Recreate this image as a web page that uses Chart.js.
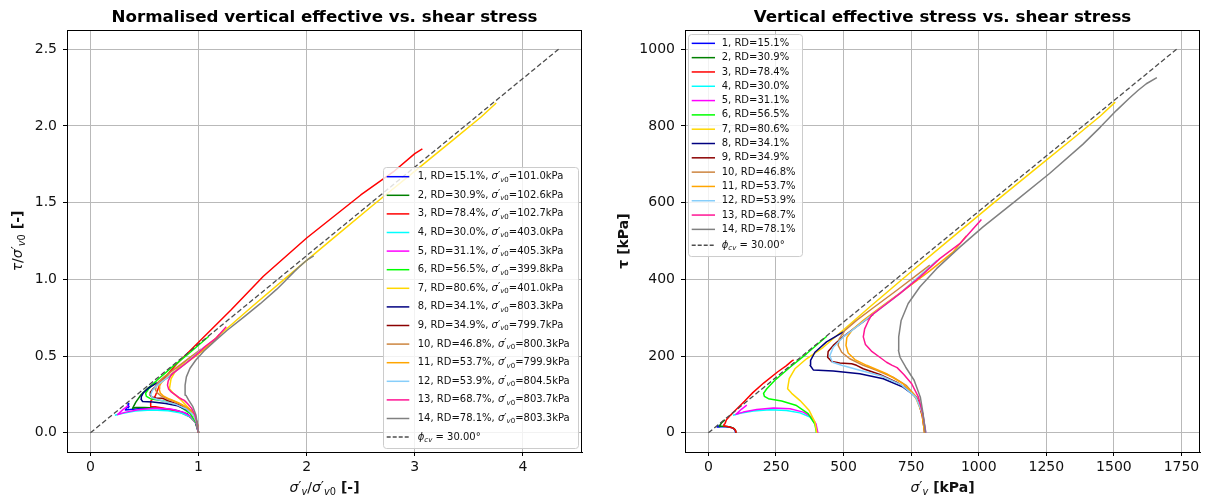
<!DOCTYPE html>
<html>
<head>
<meta charset="utf-8">
<title>Vertical effective stress vs. shear stress</title>
<script src="https://cdn.jsdelivr.net/npm/chart.js@4/dist/chart.umd.min.js"></script>
<style>
  html, body { margin: 0; padding: 0; background: #fff; }
  #wrap { position: relative; width: 1207px; height: 502px; overflow: hidden; }
  .pane { position: absolute; top: 0; height: 502px; }
  #paneLeft { left: 0; width: 600px; }
  #paneRight { left: 600px; width: 607px; }
</style>
</head>
<body>
<div id="wrap">
  <div class="pane" id="paneLeft"><canvas id="chartNorm"></canvas></div>
  <div class="pane" id="paneRight"><canvas id="chartAbs"></canvas></div>
</div>
<script>
// ---- Test metadata ----
const testIds = [1, 2, 3, 4, 5, 6, 7, 8, 9, 10, 11, 12, 13, 14];
const relativeDensity = [15.1, 30.9, 78.4, 30.0, 31.1, 56.5, 80.6, 34.1, 34.9, 46.8, 53.7, 53.9, 68.7, 78.1];
const sigmaV0 = [101.0, 102.6, 102.7, 403.0, 405.3, 399.8, 401.0, 803.3, 799.7, 800.3, 799.9, 804.5, 803.7, 803.3];
const phiCv = 30.0;

// ---- Stress paths: vertical effective stress sigma'_v [kPa] and shear stress tau [kPa] ----
const sigma1 = [101.0, 98.0, 90.4, 77.8, 62.3, 46.8, 37.4, 32.7, 35.8, 35.2, 36.4];
const tau1   = [0, 7.5, 12.5, 15.0, 16.0, 16.0, 15.4, 15.0, 19.3, 16.4, 17.6];

const sigma2 = [102.6, 99.5, 92.3, 82.1, 66.7, 51.3, 43.1, 40.0, 43.1, 48.2, 54.4, 61.6];
const tau2   = [0, 7.2, 12.3, 14.9, 16.4, 16.9, 16.9, 16.4, 20.5, 25.6, 29.8, 33.9];

const sigma3 = [102.7, 100.6, 95.5, 86.3, 73.9, 61.6, 57.5, 57.0, 57.5, 61.6, 66.8, 82.2, 102.7, 133.5, 164.3, 205.4, 256.8, 287.6, 308.1, 315.3];
const tau3   = [0, 6.2, 10.3, 13.4, 15.9, 17.5, 17.7, 19.5, 21.1, 24.6, 33.9, 46.2, 60.6, 82.2, 104.8, 130.4, 159.2, 174.6, 186.9, 190.0];

const sigma4 = [403, 395, 376, 339, 289, 228, 166, 117, 91];
const tau4   = [0, 23.5, 41, 52, 58, 60, 57, 51, 46];

const sigma5 = [405, 398, 382, 351, 302, 240, 179, 129, 102, 123, 142];
const tau5   = [0, 23, 41, 54, 63, 65, 61, 54, 48, 62, 72];

const sigma6 = [400, 394, 369, 326, 271, 222, 207, 204, 216, 246, 302, 363, 437];
const tau6   = [0, 23, 50, 71, 83, 89, 95, 103, 115, 137, 171, 206, 251];

const sigma7 = [401, 394, 373, 339, 308, 293, 299, 320, 363, 425, 499, 600, 750, 900, 1050, 1200, 1350, 1450, 1505];
const tau7   = [0, 28, 58, 84, 103, 115, 141, 167, 193, 223, 268, 330, 420, 508, 596, 682, 768, 826, 862];

const sigma8 = [803, 792, 770, 720, 647, 560, 462, 388, 376, 378, 394, 437, 501];
const tau8   = [0, 50, 93, 119, 141, 154, 161, 164, 176, 189, 210, 237, 264];

const sigma9 = [800, 792, 776, 745, 696, 634, 573, 548, 530, 486, 456, 441, 443, 462, 499, 548, 610];
const tau9   = [0, 41, 84, 110, 132, 152, 167, 176, 180, 182, 186, 197, 212, 228, 251, 277, 309];

const sigma10 = [800, 792, 770, 733, 683, 622, 573, 523, 493, 480, 484, 505, 548, 610, 696, 819];
const tau10   = [0, 50, 93, 123, 145, 163, 176, 193, 210, 228, 245, 267, 293, 326, 371, 437];

const sigma11 = [800, 789, 764, 720, 659, 585, 542, 517, 509, 512, 533, 573, 634, 720, 819, 905, 954];
const tau11   = [0, 54, 97, 128, 154, 176, 191, 208, 228, 248, 269, 293, 326, 370, 422, 471, 513];

const sigma12 = [805, 793, 767, 714, 640, 560, 493, 459, 449, 462, 499, 548, 610, 708, 846];
const tau12   = [0, 50, 93, 125, 148, 163, 176, 184, 201, 223, 250, 276, 310, 363, 450];

const sigma13 = [804, 793, 777, 752, 723, 698, 680, 659, 634, 603, 581, 573, 578, 591, 603, 640, 708, 782, 856, 930, 1010];
const tau13   = [0, 50, 93, 128, 152, 170, 176, 184, 197, 213, 230, 250, 271, 291, 306, 326, 363, 406, 454, 493, 556];

const sigma14 = [803, 794, 784, 761, 730, 709, 703, 704, 713, 739, 782, 844, 930, 1016, 1139, 1262, 1385, 1450, 1509, 1558, 1590, 1620, 1659];
const tau14   = [0, 50, 93, 137, 171, 197, 215, 250, 293, 337, 380, 428, 484, 537, 606, 676, 752, 797, 840, 873, 893, 910, 926];

// Critical state line tau = sigma'_v * tan(phi_cv)
const cslSigma = [0, 1732];
const cslTau = [0, 1000];
const cslSigmaNorm = [0, 4.33];
const cslTauNorm = [0, 2.5];

// ---- Tick values and labels ----
const normXTicks = [0, 1, 2, 3, 4];
const normXTickLabels = ['0', '1', '2', '3', '4'];
const normYTicks = [0, 0.5, 1.0, 1.5, 2.0, 2.5];
const normYTickLabels = ['0.0', '0.5', '1.0', '1.5', '2.0', '2.5'];
const absXTicks = [0, 250, 500, 750, 1000, 1250, 1500, 1750];
const absXTickLabels = ['0', '250', '500', '750', '1000', '1250', '1500', '1750'];
const absYTicks = [0, 200, 400, 600, 800, 1000];
const absYTickLabels = ['0', '200', '400', '600', '800', '1000'];

// ---- Styles ----
const seriesColors = ['#0000ff', '#008000', '#ff0000', '#00ffff', '#ff00ff', '#00ff00', '#ffd700',
                      '#000080', '#8b0000', '#cd853f', '#ffa500', '#87cefa', '#ff1493', '#808080'];
const cslColor = '#4d4d4d';
const cslDash = [5, 2.6];

const sigmaSeries = [sigma1, sigma2, sigma3, sigma4, sigma5, sigma6, sigma7, sigma8, sigma9, sigma10, sigma11, sigma12, sigma13, sigma14];
const tauSeries = [tau1, tau2, tau3, tau4, tau5, tau6, tau7, tau8, tau9, tau10, tau11, tau12, tau13, tau14];

const FAM = '"DejaVu Sans", sans-serif';
const fReg = s => `${s}px ${FAM}`;
const fIt = s => `italic ${s}px ${FAM}`;
const fBold = s => `bold ${s}px ${FAM}`;
const TEXT = '#111';

Chart.defaults.font.family = FAM;
Chart.defaults.color = TEXT;

// ---- Rich text helpers (math-style labels with subscripts) ----
function richWidth(ctx, parts) {
  let w = 0;
  for (const p of parts) { ctx.font = p.font; w += ctx.measureText(p.t).width; }
  return w;
}
function drawRich(ctx, parts, x, y, align) {
  const w = richWidth(ctx, parts);
  let cx = align === 'center' ? x - w / 2 : x;
  ctx.textAlign = 'left';
  ctx.textBaseline = 'middle';
  for (const p of parts) {
    ctx.font = p.font;
    ctx.fillStyle = p.color || TEXT;
    ctx.fillText(p.t, cx, y + (p.dy || 0));
    cx += ctx.measureText(p.t).width;
  }
}
function sigmaPrime(size, subItalic, subUpright) {
  const s = Math.round(size * 0.7 * 10) / 10;
  const parts = [
    { t: 'σ', font: fIt(size) },
    { t: '′', font: fReg(size), dy: -size * 0.05 }
  ];
  if (subItalic) parts.push({ t: subItalic, font: fIt(s), dy: size * 0.3 });
  if (subUpright) parts.push({ t: subUpright, font: fReg(s), dy: size * 0.3 });
  return parts;
}

// ---- Dataset construction ----
function buildDatasets(normalised) {
  const ds = sigmaSeries.map((sig, i) => {
    const ref = normalised ? sigmaV0[i] : 1;
    return {
      label: `${testIds[i]}, RD=${relativeDensity[i].toFixed(1)}%`,
      data: sig.map((s, k) => ({ x: s / ref, y: tauSeries[i][k] / ref })),
      borderColor: seriesColors[i],
      backgroundColor: seriesColors[i],
      borderWidth: 1.5,
      borderJoinStyle: 'round',
      showLine: true,
      pointRadius: 0,
      pointHoverRadius: 0,
      fill: false,
      tension: 0,
      order: 40 - i
    };
  });
  const xs = normalised ? cslSigmaNorm : cslSigma;
  const ys = normalised ? cslTauNorm : cslTau;
  ds.push({
    label: 'phi_cv',
    data: xs.map((x, k) => ({ x: x, y: ys[k] })),
    borderColor: cslColor,
    borderWidth: 1.3,
    borderDash: cslDash,
    showLine: true,
    pointRadius: 0,
    pointHoverRadius: 0,
    fill: false,
    order: 0
  });
  return ds;
}

// ---- Legend rows ----
function legendRows(withSigma) {
  const fs = 10, sub = 7;
  const rows = testIds.map((id, i) => {
    let parts = [{ t: `${id}, RD=${relativeDensity[i].toFixed(1)}%`, font: fReg(fs) }];
    if (withSigma) {
      parts = parts.concat([
        { t: ', ', font: fReg(fs) },
        { t: 'σ', font: fIt(fs) },
        { t: '′', font: fReg(fs), dy: -0.5 },
        { t: 'v', font: fIt(sub), dy: 3 },
        { t: '0', font: fReg(sub), dy: 3 },
        { t: `=${sigmaV0[i].toFixed(1)}kPa`, font: fReg(fs) }
      ]);
    }
    return { color: seriesColors[i], dash: null, parts: parts };
  });
  rows.push({
    color: cslColor, dash: [4, 2],
    parts: [
      { t: 'ϕ', font: fIt(fs) },
      { t: 'cv', font: fIt(sub), dy: 3 },
      { t: ` = ${phiCv.toFixed(2)}°`, font: fReg(fs) }
    ]
  });
  return rows;
}

// ---- Plugin: frame, axis labels, in-axes legend ----
const decorPlugin = {
  id: 'decor',
  afterDraw(chart, args, opts) {
    const ctx = chart.ctx;
    const a = chart.chartArea;
    ctx.save();
    // full axes frame
    ctx.strokeStyle = '#000';
    ctx.lineWidth = 1;
    ctx.strokeRect(Math.round(a.left) + 0.5, Math.round(a.top) + 0.5,
                   Math.round(a.right - a.left) - 1, Math.round(a.bottom - a.top));

    // axis labels
    const cx = (a.left + a.right) / 2;
    const cy = (a.top + a.bottom) / 2;
    drawRich(ctx, opts.xLabel, cx, opts.xLabelY, 'center');
    ctx.save();
    ctx.translate(opts.yLabelX, cy);
    ctx.rotate(-Math.PI / 2);
    drawRich(ctx, opts.yLabel, 0, 0, 'center');
    ctx.restore();

    // legend
    const L = opts.legend;
    const bx = L.anchor === 'lower right' ? a.right - L.inset - L.width : a.left + L.inset;
    const by = L.anchor === 'lower right' ? a.bottom - L.inset - L.height : a.top + L.insetTop;
    ctx.beginPath();
    if (ctx.roundRect) ctx.roundRect(bx + 0.5, by + 0.5, L.width, L.height, 3);
    else ctx.rect(bx + 0.5, by + 0.5, L.width, L.height);
    ctx.fillStyle = 'rgba(255,255,255,0.82)';
    ctx.fill();
    ctx.strokeStyle = '#cccccc';
    ctx.lineWidth = 1;
    ctx.stroke();
    L.rows.forEach((row, i) => {
      const y = by + L.firstRow + i * L.pitch + (i === L.rows.length - 1 ? L.lastExtra : 0);
      ctx.beginPath();
      ctx.setLineDash(row.dash || []);
      ctx.strokeStyle = row.color;
      ctx.lineWidth = 1.5;
      ctx.moveTo(bx + L.sampleX0, y);
      ctx.lineTo(bx + L.sampleX1, y);
      ctx.stroke();
      ctx.setLineDash([]);
      drawRich(ctx, row.parts, bx + L.textX, y, 'left');
    });
    ctx.restore();
  }
};

function scaleOpts(min, max, ticks, labels, isY, fixedSize) {
  return {
    type: 'linear',
    min: min,
    max: max,
    afterBuildTicks: (scale) => { scale.ticks = ticks.map(v => ({ value: v })); },
    afterFit: (scale) => { if (isY) scale.width = fixedSize; else scale.height = fixedSize; },
    ticks: {
      callback: (value) => { const k = ticks.indexOf(value); return k >= 0 ? labels[k] : ''; },
      font: { size: 14, family: FAM },
      color: TEXT,
      padding: isY ? 6 : 3,
      maxRotation: 0,
      autoSkip: false
    },
    grid: {
      color: '#b9b9b9',
      lineWidth: 1,
      tickColor: '#000',
      tickLength: 4,
      drawTicks: true
    },
    border: { display: true, color: '#000', width: 1 }
  };
}

function makeChart(canvasId, cfg) {
  return new Chart(document.getElementById(canvasId), {
    type: 'scatter',
    data: { datasets: buildDatasets(cfg.normalised) },
    options: {
      responsive: true,
      maintainAspectRatio: false,
      animation: false,
      events: [],
      layout: { autoPadding: false, padding: { left: 0, right: cfg.padRight, top: 0, bottom: 0 } },
      scales: {
        x: scaleOpts(cfg.xMin, cfg.xMax, cfg.xTicks, cfg.xLabels, false, 50),
        y: scaleOpts(cfg.yMin, cfg.yMax, cfg.yTicks, cfg.yLabels, true, cfg.yAxisWidth)
      },
      plugins: {
        legend: { display: false },
        tooltip: { enabled: false },
        title: {
          display: true,
          text: cfg.title,
          fullSize: false,
          color: '#000',
          font: { size: 16.7, weight: 'bold', family: FAM, lineHeight: 1.2 },
          padding: { top: 8, bottom: 2 }
        },
        decor: {
          xLabel: cfg.xLabel,
          yLabel: cfg.yLabel,
          xLabelY: 488,
          yLabelX: cfg.yLabelX,
          legend: cfg.legend
        }
      }
    },
    plugins: [decorPlugin]
  });
}

// Left panel: stresses normalised by the initial vertical effective stress
makeChart('chartNorm', {
  normalised: true,
  title: 'Normalised vertical effective vs. shear stress',
  padRight: 18,
  yAxisWidth: 67,
  xMin: -0.2165, xMax: 4.5465, xTicks: normXTicks, xLabels: normXTickLabels,
  yMin: -0.125, yMax: 2.625, yTicks: normYTicks, yLabels: normYTickLabels,
  xLabel: sigmaPrime(14, 'v', null).concat([{ t: '/', font: fReg(14) }], sigmaPrime(14, 'v', '0'), [{ t: ' [-]', font: fBold(14) }]),
  yLabel: [{ t: 'τ', font: fIt(14) }, { t: '/', font: fReg(14) }].concat(sigmaPrime(14, 'v', '0'), [{ t: ' [-]', font: fBold(14) }]),
  yLabelX: 18,
  legend: {
    anchor: 'lower right', inset: 4, width: 195, height: 281,
    firstRow: 9.7, pitch: 18.6, lastExtra: 0,
    sampleX0: 3.7, sampleX1: 26.3, textX: 34.7,
    rows: legendRows(true)
  }
});

// Right panel: stresses in kPa
makeChart('chartAbs', {
  normalised: false,
  title: 'Vertical effective stress vs. shear stress',
  padRight: 7,
  yAxisWidth: 85,
  xMin: -86.6, xMax: 1818.6, xTicks: absXTicks, xLabels: absXTickLabels,
  yMin: -50, yMax: 1050, yTicks: absYTicks, yLabels: absYTickLabels,
  xLabel: sigmaPrime(14, 'v', null).concat([{ t: ' [kPa]', font: fBold(14) }]),
  yLabel: [{ t: 'τ', font: fBold(14) }, { t: ' [kPa]', font: fBold(14) }],
  yLabelX: 24,
  legend: {
    anchor: 'upper left', inset: 3, insetTop: 4, width: 114, height: 222,
    firstRow: 9.3, pitch: 14.31, lastExtra: 1.5,
    sampleX0: 3.7, sampleX1: 27, textX: 33.7,
    rows: legendRows(false)
  }
});
</script>
</body>
</html>
